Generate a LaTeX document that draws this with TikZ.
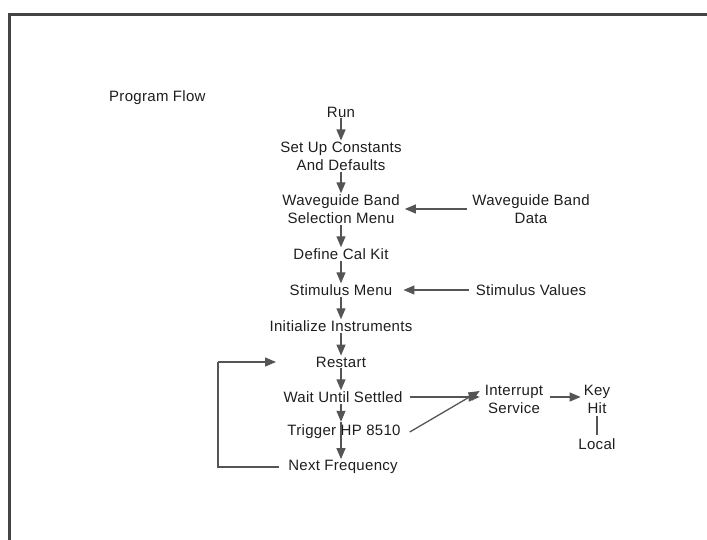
\documentclass[tikz,border=0pt]{standalone}
\usepackage{fontspec}
\setmainfont{Liberation Sans}[LetterSpace=2]
\usetikzlibrary{arrows.meta}
\definecolor{ink}{HTML}{1E1E1E}
\definecolor{ln}{HTML}{555555}
\tikzset{
  lbl/.style={text=ink, align=center, inner sep=1pt, font=\fontsize{15}{18}\selectfont},
  arr/.style={draw=ln, line width=1.3pt, -{Triangle[length=11pt,width=9pt]}},
  plain/.style={draw=ln, line width=1.3pt},
  frame/.style={draw=ln!80!black, line width=3pt}
}
\begin{document}
\begin{tikzpicture}[x=1pt,y=-1pt]
\useasboundingbox (0,0) rectangle (707,540);
\fill[white] (0,0) rectangle (707,540);
% frame
\coordinate (ftl) at (9,15);
\coordinate (ftr) at (707,15);
\coordinate (fbl) at (9,540);
\draw[frame] (fbl) -- (ftl) -- (ftr);

\node[lbl, anchor=west] (title) at (108,98) {Program Flow};
\node[lbl] (run) at (341,112) {Run};
\node[lbl] (setup) at (341,156) {Set Up Constants\\And Defaults};
\node[lbl] (wgmenu) at (341,209) {Waveguide Band\\Selection Menu};
\node[lbl] (wgdata) at (531,209) {Waveguide Band\\Data};
\node[lbl] (cal) at (341,254) {Define Cal Kit};
\node[lbl] (stim) at (341,290) {Stimulus Menu};
\node[lbl] (stimv) at (531,290) {Stimulus Values};
\node[lbl] (init) at (341,326) {Initialize Instruments};
\node[lbl] (restart) at (341,362) {Restart};
\node[lbl] (wait) at (343,397) {Wait Until Settled};
\node[lbl] (trig) at (344,432) {Trigger HP 8510};
\node[lbl] (next) at (343,467) {Next Frequency};
\node[lbl] (intr) at (514,399) {Interrupt\\Service};
\node[lbl] (key) at (597,399) {Key\\Hit};
\node[lbl] (local) at (597,444) {Local};

\coordinate (sp) at (341,0);
\draw[arr] (run.south -| sp) -- (setup.north -| sp);
\draw[arr] (setup.south -| sp) -- (wgmenu.north -| sp);
\draw[arr] (wgmenu.south -| sp) -- (cal.north -| sp);
\draw[arr] (cal.south -| sp) -- (stim.north -| sp);
\draw[arr] (stim.south -| sp) -- (init.north -| sp);
\draw[arr] (init.south -| sp) -- (restart.north -| sp);
\draw[arr] (restart.south -| sp) -- (wait.north -| sp);
\draw[arr] (wait.south -| sp) -- ([yshift=2pt]trig.north -| sp);
\draw[arr] ([yshift=2pt]trig.north -| sp) -- (next.north -| sp);

\draw[arr] ([xshift=-4pt]wgdata.west |- wgmenu) -- ([xshift=4pt]wgmenu.east);
\draw[arr] ([xshift=-6pt]stimv.west) -- ([xshift=10pt]stim.east);

\coordinate (loopin) at (276,362);
\coordinate (lx) at (218,0);
\draw[plain] ([xshift=-8pt]next.west) -- (lx |- next) -- (lx |- loopin);
\draw[arr] (lx |- loopin) -- (loopin);

\draw[arr] ([xshift=6pt]wait.east) -- ([xshift=-4pt]intr.west |- wait);
\draw[arr] ([xshift=8pt]trig.east) -- ([xshift=-4pt,yshift=6pt]intr.west |- wait);
\draw[arr] ([xshift=6pt]intr.east |- wait) -- ([xshift=-2pt]key.west |- wait);
\draw[plain] ([yshift=-2pt]key.south) -- ([yshift=2pt]local.north);
\end{tikzpicture}
\end{document}
